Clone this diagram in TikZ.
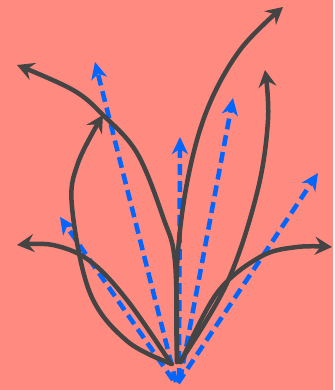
\documentclass[tikz,border=0pt]{standalone}
\usetikzlibrary{arrows.meta}
\definecolor{salmon}{RGB}{255,138,128}
\definecolor{vecblue}{RGB}{0,102,255}
\definecolor{curvegray}{RGB}{68,68,68}

\begin{document}
\begin{tikzpicture}[x=1pt, y=-1pt,
  curve/.style={curvegray, line width=4.5pt, line cap=round, -{Stealth[length=17pt, width=18pt, inset=6pt]}},
  vec/.style={vecblue, line width=4.5pt, dash pattern=on 11pt off 6pt, -{Stealth[length=17pt, width=16pt, inset=5pt]}}]

\fill[salmon] (0,0) rectangle (333,390);

\coordinate (o) at (178,378);

% straight vectors
\coordinate (v1) at (95,62);
\coordinate (v2) at (180,137);
\coordinate (v3) at (233,98);
\coordinate (v4) at (318,173);
\coordinate (v5) at (60,217);

\draw[vec] (176,382) -- (v1);
\draw[vec] (179,379) -- (v2);
\draw[vec] (180,380) -- (v3);
\draw[vec] (178,383) -- (v4);
\draw[vec] (173,380) -- (v5);

% curved paths
\draw[curve] plot[smooth, tension=0.6] coordinates {(170,362) (127,300) (90,261) (53,245) (17,245)};
\draw[curve] plot[smooth, tension=0.6] coordinates {(172,364) (127,341) (90,293) (72,207) (78,163) (103,115)};
\draw[curve] plot[smooth, tension=0.6] coordinates {(177,362) (175,262) (163,217) (137,153) (103,115) (73,90) (17,65)};
\draw[curve] plot[smooth, tension=0.6] coordinates {(177,362) (177,267) (187,183) (207,110) (240,50) (283,7)};
\draw[curve] plot[smooth, tension=0.6] coordinates {(180,362) (227,283) (257,193) (268,120) (265,70)};
\draw[curve] plot[smooth, tension=0.6] coordinates {(181,362) (217,293) (260,257) (297,247) (332,247)};

\end{tikzpicture}
\end{document}
